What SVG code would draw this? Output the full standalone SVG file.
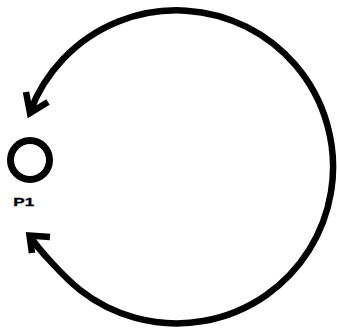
<svg xmlns="http://www.w3.org/2000/svg" width="337" height="330" viewBox="0 0 337 330">
<style>
.ln{fill:none;stroke:#000;stroke-width:6.5;stroke-linejoin:miter;stroke-linecap:butt}
.lbl{font-family:"Liberation Sans",Arial,sans-serif;font-weight:bold;font-size:11.5px;fill:#000;stroke:#000;stroke-width:0.3}
</style>
<rect width="337" height="330" fill="#fff"/>
<g id="P1">
<circle cx="30" cy="160" r="19.5" fill="none" stroke="#000" stroke-width="7"/>
<text class="lbl" x="13.3" y="205.7" textLength="21" lengthAdjust="spacingAndGlyphs">P1</text>
</g>
<g id="connectors">
<path class="ln" d="M 30,112 A 156.5 156.5 0 1 1 80,290 C 64,277 37,248 30,236"/>
<polyline class="ln" points="26,92 30,113 48,102"/>
<polyline class="ln" points="32,253 29.5,235.5 50,237"/>
</g>
</svg>
